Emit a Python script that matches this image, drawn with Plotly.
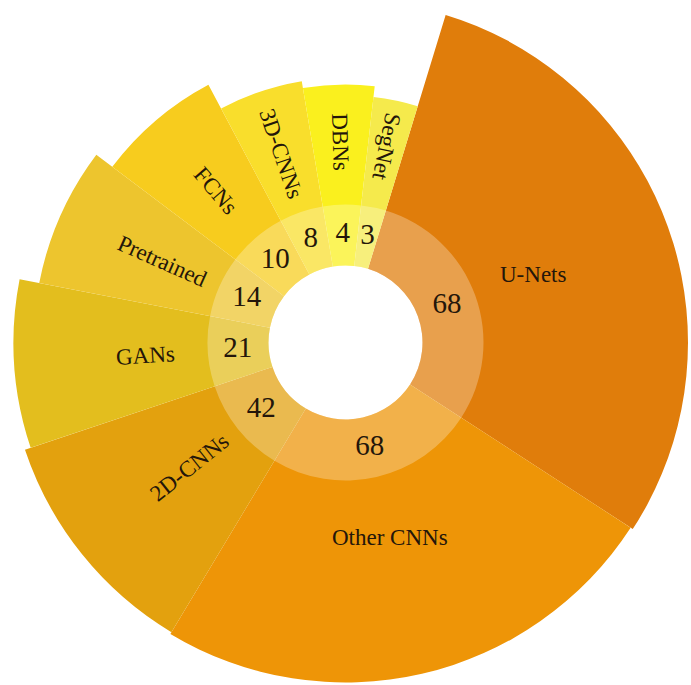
import math
import plotly.graph_objects as go

labels = ["U-Nets", "Other CNNs", "2D-CNNs", "GANs", "Pretrained", "FCNs", "3D-CNNs", "DBNs", "SegNet"]
counts = [68, 68, 42, 21, 14, 10, 8, 4, 3]
# angular span (deg) and outer radius (px) of each petal
spans = [106, 88, 40.5, 29.5, 26, 25, 18.5, 16, 10.5]
outer = [348, 340, 338, 332, 312, 292, 265, 258, 247]
colors = ["#E07D0B", "#EE9507", "#E3A10E", "#E3BE1E", "#EDC52E",
          "#F7CC1E", "#F9DE2C", "#FAF01E", "#F5EA4C"]

W, H = 691, 685
R = H / 2          # polar radius in px
CX, CY = W / 2, H / 2
hole = 77
ring = 138
start = 17

thetas = []
a = start
for s in spans:
    thetas.append(a + s / 2)
    a += s

fig = go.Figure()

fig.add_trace(go.Barpolar(
    theta = thetas,
    width = spans,
    r = [o - hole for o in outer],
    base = hole,
    marker_color = colors,
    marker_line_width = 0,
    hoverinfo = "skip",
))

# lighter inner ring
fig.add_trace(go.Barpolar(
    theta = thetas,
    width = spans,
    r = [ring - hole] * len(labels),
    base = hole,
    marker_color = "rgba(255,255,255,0.27)",
    marker_line_width = 0,
    hoverinfo = "skip",
))

fig.add_trace(go.Scatterpolar(
    theta = thetas,
    r = [108] * len(labels),
    mode = "text",
    text = [str(c) for c in counts],
    textfont = dict(family = "Liberation Serif", size = 29, color = "#24160a"),
    hoverinfo = "skip",
))

flat = {"U-Nets", "Other CNNs"}
annotations = []
for lab, th in zip(labels, thetas):
    rr = 200
    xpx = CX + rr * math.sin(math.radians(th))
    ypx = CY - rr * math.cos(math.radians(th))
    ang = (th + 90 + 180) % 360 - 180
    if lab in flat:
        ang = 0
    annotations.append(dict(
        x = xpx / W, y = 1 - ypx / H, xref = "paper", yref = "paper",
        text = lab, showarrow = False, textangle = ang,
        xanchor = "center", yanchor = "middle",
        font = dict(family = "Liberation Serif", size = 23, color = "#24160a"),
    ))

fig.update_layout(
    width = W,
    height = H,
    margin = dict(l = 0, r = 0, t = 0, b = 0),
    paper_bgcolor = "white",
    showlegend = False,
    annotations = annotations,
    polar = dict(
        domain = dict(x = [0, 1], y = [0, 1]),
        bgcolor = "white",
        angularaxis = dict(rotation = 90, direction = "clockwise", visible = False),
        radialaxis = dict(range = [0, R], visible = False),
    ),
)

fig.write_html("out.html", config = {"displayModeBar": False},
               post_script = "document.body.style.margin = '0px';")
